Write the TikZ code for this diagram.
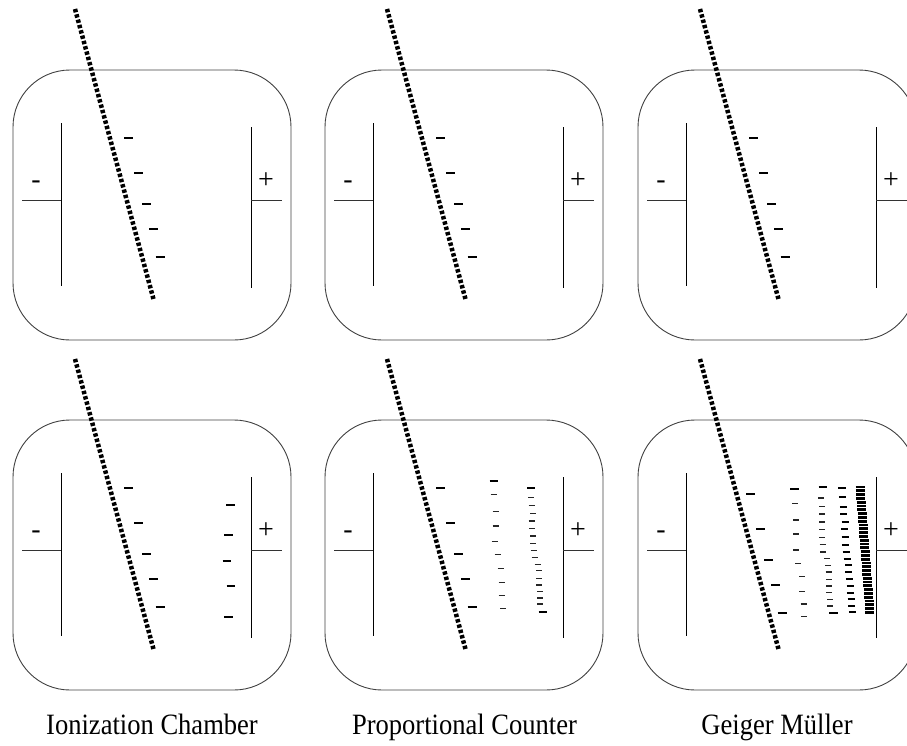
\documentclass[tikz,border=0pt]{standalone}
\usepackage{fontspec}
\usepackage{graphicx}
\setmainfont{Liberation Serif}
\begin{document}
\begin{tikzpicture}[x=1pt,y=-1pt,
  chamberwall/.style={draw=black!75, line width=0.9pt, rounded corners=57pt},
  plate/.style={draw=black, line width=0.9pt},
  lead/.style={draw=black!80, line width=0.9pt},
  track/.style={draw=black, line width=4.5pt, dash pattern=on 3.4pt off 2.1pt},
  ion/.style={draw=black, line width=2.2pt},
  ionthin/.style={draw=black!85, line width=1.4pt},
  ionheavy/.style={draw=black, line width=2.8pt},
  polarity/.style={font=\fontsize{28}{28}\selectfont, inner sep=0pt},
  caption/.style={font=\fontsize{29.5}{30}\selectfont, inner sep=0pt, anchor=base}]
\useasboundingbox (0,0) rectangle (907,745);

% one gas-filled chamber: wall, two electrodes with leads, polarity marks, particle track
\newcommand{\chamber}[3]{%
  \begin{scope}[shift={(#1,#2)}]
    \draw[chamberwall] (13,70) rectangle (291,340);
    \coordinate (#3-cath-top) at (61,123);
    \coordinate (#3-cath-bot) at (61,286);
    \coordinate (#3-cath-mid) at (61,200);
    \coordinate (#3-cath-end) at (22,200);
    \coordinate (#3-anod-top) at (251,127);
    \coordinate (#3-anod-bot) at (251,288);
    \coordinate (#3-anod-mid) at (251,200);
    \coordinate (#3-anod-end) at (282,200);
    \draw[plate] (#3-cath-top) -- (#3-cath-bot);
    \draw[plate] (#3-anod-top) -- (#3-anod-bot);
    \draw[lead] (#3-cath-end) -- (#3-cath-mid);
    \draw[lead] (#3-anod-mid) -- (#3-anod-end);
    \node[polarity] (#3-minus) at (36,185) {-};
    \node[polarity] (#3-plus) at (266,181) {+};
    \coordinate (#3-trk-in) at (75,9);
    \coordinate (#3-trk-out) at (154,301);
    \draw[track] (#3-trk-in) -- (#3-trk-out);
  \end{scope}}

% primary ion pairs along the track
\newcommand{\primaries}[2]{%
  \begin{scope}[shift={(#1,#2)}]
    \foreach \px/\py in {128.5/138, 138.5/173, 146.5/204, 153.5/229, 160/257}
      \draw[ion] (\px-4.5,\py) -- (\px+4.5,\py);
  \end{scope}}

\chamber{0}{0}{ia}
\chamber{312}{0}{pa}
\chamber{625}{0}{ga}
\chamber{0}{350}{ib}
\chamber{312}{350}{pb}
\chamber{625}{350}{gb}

\primaries{0}{0}
\primaries{312}{0}
\primaries{625}{0}
\primaries{0}{350}
\primaries{312}{350}
\primaries{622}{356}

% ionization chamber: electrons drifting to the anode
\foreach \px/\py in {230.3/504.7, 228.3/535, 227/560.7, 231/585.7, 228.3/617}
  \draw[ion] (\px-4.3,\py) -- (\px+4.3,\py);

% proportional counter: first and second avalanche generations
\draw[ion] (489.5,481.3) -- (498,481.3);
\foreach \px/\py in {493.7/494.7, 495.7/511.7, 495.7/526, 494.7/541.3, 497.7/554.7,
                     500.7/568.7, 501.7/582.7, 501.7/595.3, 503/608.7}
  \draw[ionthin] (\px-3,\py) -- (\px+3,\py);
\draw[ion] (527.3,487.7) -- (535.3,487.7);
\foreach \px/\py in {531/497.3, 531.7/505.3, 533/513.3, 531.7/521, 532.3/528.3, 533/536,
                     533/543.7, 533.7/550.7, 534.7/557.3, 537.7/564.3, 539/570.3, 539/578.7,
                     539/585, 540/591.3, 540.3/598, 540.3/604}
  \draw[ionthin] (\px-3,\py) -- (\px+3,\py);
\draw[ion] (538.7,612) -- (547.3,612);

% Geiger-Mueller: avalanches spreading along the whole anode
\draw[ion] (790,489.3) -- (798.7,489.3);
\foreach \px/\py in {795.3/503.3, 796.3/520, 796.3/534, 796.3/550, 798.3/563.3,
                     802.3/576.7, 802.3/591.3, 803.7/604, 804.3/616.7}
  \draw[ionthin] (\px-3,\py) -- (\px+3,\py);
\draw[ion] (818.5,487) -- (826.5,487);
\foreach \px/\py in {821.3/498, 822/506.7, 822/514, 822/522, 822/529.3, 822/537.3,
                     822.7/544.7, 823.3/552, 827.3/558.7, 828/565.3, 828.7/572, 829/579.3,
                     829.3/586, 829.3/592.7, 830/599.3, 830/606}
  \draw[ionthin] (\px-3,\py) -- (\px+3,\py);
\draw[ion] (829,613.3) -- (837.5,613.3);
\draw[ionheavy] (838,488) -- (846,488);
\foreach \px/\py in {842.3/497.3, 843.3/506.7, 843.7/514, 845/522, 844.3/528.7, 845/537.3,
                     845.3/545.3, 846/552, 847/558.7, 848.7/565.3, 848.7/572, 849.3/579.3,
                     850/586, 850.3/592.7, 851/599.3, 851.7/606, 852.3/612}
  \draw[ion] (\px-3.5,\py) -- (\px+3.5,\py);
\foreach \i in {0,...,33}
  \draw[ionheavy] ({855.5+0.3*\i},{487+3.8*\i}) -- ({864.5+0.3*\i},{487+3.8*\i});

% detector names
\node[caption] (cap-ion) at (152,734) {\scalebox{0.9}[1]{Ionization Chamber}};
\node[caption] (cap-prop) at (464.5,734) {\scalebox{0.9}[1]{Proportional Counter}};
\node[caption] (cap-gm) at (777,734) {\scalebox{0.9}[1]{Geiger Müller}};
\end{tikzpicture}
\end{document}
